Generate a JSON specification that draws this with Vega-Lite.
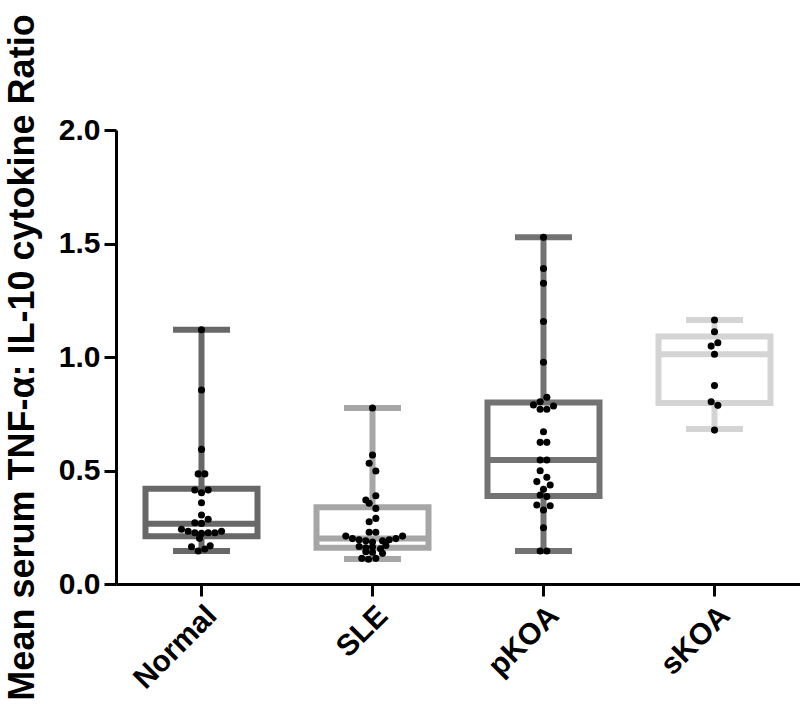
{
  "$schema": "https://vega.github.io/schema/vega-lite/v6.json",
  "autosize": "none",
  "width": 684,
  "height": 454,
  "padding": {"left": 116, "top": 130, "right": 0, "bottom": 128},
  "background": "white",
  "config": {
    "view": {"stroke": null},
    "font": "Liberation Sans",
    "axis": {
      "domainColor": "black", "domainWidth": 3, "tickColor": "black", "tickWidth": 3, "tickSize": 12,
      "labelColor": "black", "labelFont": "Liberation Sans", "labelFontWeight": "bold", "labelFontSize": 30,
      "titleColor": "black", "titleFont": "Liberation Sans", "titleFontWeight": "bold", "grid": false
    }
  },
  "datasets": {
    "boxes": [
      {"group": "Normal", "min": 0.145, "q1": 0.21, "median": 0.265, "q3": 0.42, "max": 1.12},
      {"group": "SLE", "min": 0.11, "q1": 0.16, "median": 0.2, "q3": 0.338, "max": 0.775},
      {"group": "pKOA", "min": 0.145, "q1": 0.388, "median": 0.546, "q3": 0.80, "max": 1.527},
      {"group": "sKOA", "min": 0.683, "q1": 0.797, "median": 1.012, "q3": 1.09, "max": 1.163}
    ],
    "points": [
      {"group": "Normal", "value": 1.12, "off": 0},
      {"group": "Normal", "value": 0.855, "off": 0},
      {"group": "Normal", "value": 0.593, "off": 0},
      {"group": "Normal", "value": 0.485, "off": -0.5},
      {"group": "Normal", "value": 0.485, "off": 0.5},
      {"group": "Normal", "value": 0.414, "off": -1},
      {"group": "Normal", "value": 0.402, "off": 0},
      {"group": "Normal", "value": 0.414, "off": 1},
      {"group": "Normal", "value": 0.358, "off": 0},
      {"group": "Normal", "value": 0.304, "off": 0},
      {"group": "Normal", "value": 0.27, "off": -1},
      {"group": "Normal", "value": 0.267, "off": 0},
      {"group": "Normal", "value": 0.285, "off": 1},
      {"group": "Normal", "value": 0.241, "off": -3},
      {"group": "Normal", "value": 0.232, "off": -2},
      {"group": "Normal", "value": 0.226, "off": -1},
      {"group": "Normal", "value": 0.223, "off": 0},
      {"group": "Normal", "value": 0.226, "off": 1},
      {"group": "Normal", "value": 0.226, "off": 2},
      {"group": "Normal", "value": 0.232, "off": 3},
      {"group": "Normal", "value": 0.201, "off": -0.3},
      {"group": "Normal", "value": 0.164, "off": -1.5},
      {"group": "Normal", "value": 0.145, "off": -0.5},
      {"group": "Normal", "value": 0.154, "off": 0.5},
      {"group": "Normal", "value": 0.168, "off": 1.3},
      {"group": "SLE", "value": 0.775, "off": 0},
      {"group": "SLE", "value": 0.568, "off": 0},
      {"group": "SLE", "value": 0.532, "off": -0.5},
      {"group": "SLE", "value": 0.498, "off": 0.5},
      {"group": "SLE", "value": 0.389, "off": 0.5},
      {"group": "SLE", "value": 0.37, "off": -1},
      {"group": "SLE", "value": 0.356, "off": -0.5},
      {"group": "SLE", "value": 0.333, "off": 0.5},
      {"group": "SLE", "value": 0.289, "off": 0.5},
      {"group": "SLE", "value": 0.274, "off": -0.5},
      {"group": "SLE", "value": 0.228, "off": -0.5},
      {"group": "SLE", "value": 0.228, "off": 0.5},
      {"group": "SLE", "value": 0.211, "off": -4},
      {"group": "SLE", "value": 0.2, "off": -3},
      {"group": "SLE", "value": 0.195, "off": -2},
      {"group": "SLE", "value": 0.19, "off": -1},
      {"group": "SLE", "value": 0.185, "off": 0},
      {"group": "SLE", "value": 0.19, "off": 1.5},
      {"group": "SLE", "value": 0.195, "off": 2.5},
      {"group": "SLE", "value": 0.2, "off": 3.5},
      {"group": "SLE", "value": 0.211, "off": 4.5},
      {"group": "SLE", "value": 0.165, "off": -2},
      {"group": "SLE", "value": 0.16, "off": -1},
      {"group": "SLE", "value": 0.163, "off": 0},
      {"group": "SLE", "value": 0.155, "off": 1.2},
      {"group": "SLE", "value": 0.17, "off": 2},
      {"group": "SLE", "value": 0.142, "off": -1},
      {"group": "SLE", "value": 0.14, "off": 0},
      {"group": "SLE", "value": 0.135, "off": 1.5},
      {"group": "SLE", "value": 0.113, "off": -1.6},
      {"group": "SLE", "value": 0.109, "off": -0.6},
      {"group": "SLE", "value": 0.113, "off": 0.5},
      {"group": "pKOA", "value": 1.527, "off": 0},
      {"group": "pKOA", "value": 1.39, "off": 0},
      {"group": "pKOA", "value": 1.325, "off": 0},
      {"group": "pKOA", "value": 1.156, "off": 0},
      {"group": "pKOA", "value": 0.977, "off": 0},
      {"group": "pKOA", "value": 0.823, "off": 0.5},
      {"group": "pKOA", "value": 0.803, "off": -0.5},
      {"group": "pKOA", "value": 0.789, "off": -1.5},
      {"group": "pKOA", "value": 0.784, "off": 1.5},
      {"group": "pKOA", "value": 0.77, "off": -0.5},
      {"group": "pKOA", "value": 0.77, "off": 0.5},
      {"group": "pKOA", "value": 0.671, "off": 0},
      {"group": "pKOA", "value": 0.624, "off": -0.5},
      {"group": "pKOA", "value": 0.624, "off": 0.5},
      {"group": "pKOA", "value": 0.546, "off": -0.5},
      {"group": "pKOA", "value": 0.546, "off": 0.5},
      {"group": "pKOA", "value": 0.499, "off": -0.5},
      {"group": "pKOA", "value": 0.47, "off": 0.5},
      {"group": "pKOA", "value": 0.451, "off": -1},
      {"group": "pKOA", "value": 0.436, "off": 1},
      {"group": "pKOA", "value": 0.417, "off": 0},
      {"group": "pKOA", "value": 0.392, "off": -0.5},
      {"group": "pKOA", "value": 0.385, "off": 0.5},
      {"group": "pKOA", "value": 0.348, "off": -1},
      {"group": "pKOA", "value": 0.345, "off": 1},
      {"group": "pKOA", "value": 0.326, "off": 0},
      {"group": "pKOA", "value": 0.248, "off": 0},
      {"group": "pKOA", "value": 0.145, "off": -0.5},
      {"group": "pKOA", "value": 0.145, "off": 0.5},
      {"group": "sKOA", "value": 1.163, "off": 0},
      {"group": "sKOA", "value": 1.111, "off": 0},
      {"group": "sKOA", "value": 1.063, "off": 0.5},
      {"group": "sKOA", "value": 1.048, "off": -0.5},
      {"group": "sKOA", "value": 1.012, "off": 0},
      {"group": "sKOA", "value": 0.874, "off": 0},
      {"group": "sKOA", "value": 0.803, "off": -0.5},
      {"group": "sKOA", "value": 0.787, "off": 0.5},
      {"group": "sKOA", "value": 0.678, "off": 0}
    ]
  },
  "encoding": {
    "x": {
      "field": "group", "type": "nominal", "sort": ["Normal", "SLE", "pKOA", "sKOA"],
      "scale": {"domain": ["Normal", "SLE", "pKOA", "sKOA"], "paddingInner": 0, "paddingOuter": 0},
      "axis": {"title": null, "labelAngle": -45, "labelPadding": 4}
    }
  },
  "layer": [
    {
      "data": {"name": "boxes"},
      "mark": {"type": "rule", "strokeWidth": 6},
      "encoding": {
        "y": {"field": "min", "type": "quantitative"},
        "y2": {"field": "max"},
        "color": {"field": "group", "type": "nominal", "legend": null,
          "scale": {"domain": ["Normal", "SLE", "pKOA", "sKOA"], "range": ["#686868", "#a6a6a6", "#737373", "#d4d4d4"]}}
      }
    },
    {
      "data": {"name": "boxes"},
      "mark": {"type": "bar", "fill": "white", "strokeWidth": 6, "width": 112},
      "encoding": {
        "y": {"field": "q1", "type": "quantitative"},
        "y2": {"field": "q3"},
        "stroke": {"field": "group", "type": "nominal", "legend": null,
          "scale": {"domain": ["Normal", "SLE", "pKOA", "sKOA"], "range": ["#686868", "#a6a6a6", "#737373", "#d4d4d4"]}}
      }
    },
    {
      "data": {"name": "boxes"},
      "mark": {"type": "tick", "thickness": 6, "size": 112, "opacity": 1},
      "encoding": {
        "y": {"field": "median", "type": "quantitative"},
        "color": {"field": "group", "type": "nominal", "legend": null}
      }
    },
    {
      "data": {"name": "boxes"},
      "mark": {"type": "tick", "thickness": 6, "size": 57, "opacity": 1},
      "encoding": {
        "y": {"field": "min", "type": "quantitative"},
        "color": {"field": "group", "type": "nominal", "legend": null}
      }
    },
    {
      "data": {"name": "boxes"},
      "mark": {"type": "tick", "thickness": 6, "size": 57, "opacity": 1},
      "encoding": {
        "y": {"field": "max", "type": "quantitative"},
        "color": {"field": "group", "type": "nominal", "legend": null}
      }
    },
    {
      "data": {"name": "points"},
      "mark": {"type": "circle", "size": 50, "color": "black", "opacity": 1},
      "encoding": {
        "y": {
          "field": "value", "type": "quantitative",
          "scale": {"domain": [0, 2], "nice": false, "zero": true},
          "axis": {
            "values": [0, 0.5, 1, 1.5, 2], "format": ".1f", "labelPadding": 4,
            "title": "Mean serum TNF-α: IL-10 cytokine Ratio", "titleFontSize": 36,
            "titleX": -83, "titleBaseline": "alphabetic", "titleAngle": -90
          }
        },
        "xOffset": {"field": "off", "type": "quantitative", "scale": {"domain": [-12.8, 12.8]}}
      }
    }
  ]
}
